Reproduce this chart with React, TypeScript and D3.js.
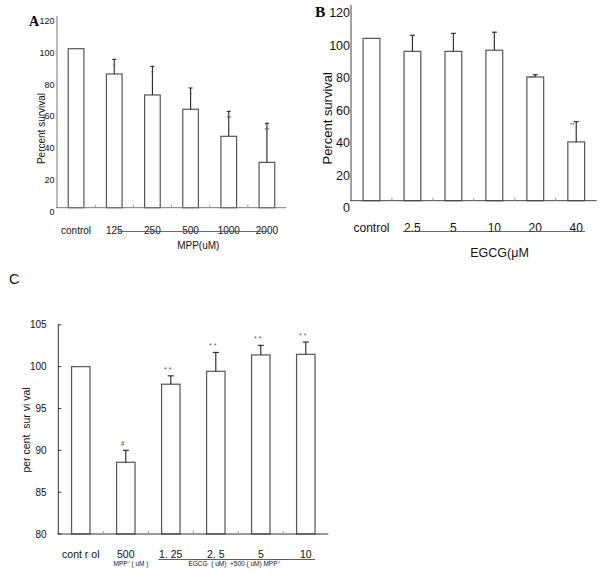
import React from "react";
import * as d3 from "d3";

// ---------- Data ----------
const catsA = ["control", "125", "250", "500", "1000", "2000"];
const meanA = [100, 84.1, 70.9, 61.9, 44.9, 28.5];
const sdA = [0, 9.2, 18.0, 13.4, 15.7, 24.6];
const sigA = ["", "*", "*", "*", "**", "**"];
const ticksA = [0, 20, 40, 60, 80, 100, 120];

const catsB = ["control", "2.5", "5", "10", "20", "40"];
const meanB = [100, 92.0, 92.0, 92.7, 76.2, 36.2];
const sdB = [0, 9.9, 11.1, 11.1, 1.4, 12.5];
const sigB = ["", "", "", "", "**", "**"];
const ticksB = [0, 20, 40, 60, 80, 100, 120];

const catsC = ["cont r ol", "500", "1. 25", "2. 5", "5", "10"];
const meanC = [100, 88.57, 97.9, 99.44, 101.4, 101.47];
const sdC = [0, 1.43, 1.0, 2.26, 1.15, 1.47];
const sigC = ["", "#", "* *", "* *", "* *", "* *"];
const ticksC = [80, 85, 90, 95, 100, 105];

const SANS = "'Liberation Sans', Arial, Helvetica, sans-serif";
const NARROW = "'Liberation Sans Narrow', 'Arial Narrow', 'Liberation Sans', Arial, sans-serif";

type PanelProps = {
  cats: string[];
  mean: number[];
  sd: number[];
  sig: string[];
  ticks: number[];
  domain: [number, number];
  xr: [number, number];
  yr: [number, number];
  tickFont: number;
  tickDy: number;
  tickX: number;
  catFont: number;
  catY: number;
  font: string;
  sigFont: number;
  sigDx: number;
  sigDy: number;
  capW: number;
  yTicksInward: boolean;
  axisColor: string;
};

function Panel(p: PanelProps) {
  const x = d3.scaleBand<string>().domain(p.cats).range(p.xr).paddingInner(0.59).paddingOuter(0.295);
  const y = d3.scaleLinear().domain(p.domain).range(p.yr);
  const step = x.step();
  const bw = x.bandwidth();
  const base = y(p.domain[0]);
  const bounds = d3.range(1, p.cats.length).map((i) => p.xr[0] + i * step);
  return (
    <g>
      {p.cats.map((c, i) => (
        <rect key={"b" + i} x={x(c)} y={y(p.mean[i])} width={bw} height={base - y(p.mean[i])}
          fill="#fff" stroke="#555" strokeWidth={1.2} />
      ))}
      {p.cats.map((c, i) => {
        if (!p.sd[i]) return null;
        const cx = (x(c) as number) + bw / 2;
        const top = y(p.mean[i] + p.sd[i]);
        return (
          <g key={"e" + i} stroke="#222" strokeWidth={1.1}>
            <line x1={cx} x2={cx} y1={y(p.mean[i])} y2={top} />
            <line x1={cx - p.capW / 2} x2={cx + p.capW / 2} y1={top} y2={top} />
          </g>
        );
      })}
      {p.cats.map((c, i) => {
        if (!p.sig[i]) return null;
        const cx = (x(c) as number) + bw / 2;
        const top = y(p.mean[i] + p.sd[i]);
        return (
          <text key={"s" + i} x={cx + p.sigDx} y={top + p.sigDy} fontSize={p.sigFont}
            fontFamily={SANS} fill="#555" textAnchor="middle" style={{ whiteSpace: "pre" }}>{p.sig[i]}</text>
        );
      })}
      <line x1={p.xr[0]} x2={p.xr[0]} y1={p.yr[1] - 1} y2={base} stroke={p.axisColor} strokeWidth={1} />
      <line x1={p.xr[0] - 1} x2={p.xr[1]} y1={base} y2={base} stroke={p.axisColor} strokeWidth={1} />
      {bounds.map((b, i) => (
        <line key={"xt" + i} x1={b} x2={b} y1={base} y2={base - 3} stroke="#999" strokeWidth={1} />
      ))}
      {p.yTicksInward && p.ticks.map((t, i) => (
        <line key={"yt" + i} x1={p.xr[0]} x2={p.xr[0] + 3} y1={y(t)} y2={y(t)} stroke="#333" strokeWidth={1} />
      ))}
      {p.ticks.map((t, i) => (
        <text key={"yl" + i} x={p.tickX} y={y(t) + p.tickDy} dy="0.35em" textAnchor="end"
          fontSize={p.tickFont} fontFamily={p.font} fill="#111">{t}</text>
      ))}
      {p.cats.map((c, i) => (
        <text key={"xl" + i} x={(x(c) as number) + bw / 2} y={p.catY} textAnchor="middle"
          fontSize={p.catFont} fontFamily={p.font} fill="#111" style={{ whiteSpace: "pre" }}>{c}</text>
      ))}
    </g>
  );
}

export default function App() {
  return (
    <svg width={600} height={574} style={{ position: "absolute", left: 0, top: 0, background: "#fff" }}>
      <rect width={600} height={574} fill="#fff" />
      {/* Panel A */}
      <text x={29} y={26} fontSize={14} fontWeight="bold" fontFamily="'Liberation Serif', 'Times New Roman', serif">A</text>
      <Panel cats={catsA} mean={meanA} sd={sdA} sig={sigA} ticks={ticksA} domain={[0, 120]}
        xr={[57, 286]} yr={[207.7, 16.9]} tickFont={9} tickDy={4} tickX={54.5} catFont={10} catY={234}
        font={SANS} sigFont={6} sigDx={0} sigDy={9} capW={4} yTicksInward={false} axisColor="#777" />
      <line x1={118} x2={268} y1={231.5} y2={231.5} stroke="#444" strokeWidth={0.8} />
      <text x={198.3} y={249} textAnchor="middle" fontSize={10} fontFamily={SANS} fill="#111">MPP(uM)</text>
      <text transform="translate(44.5,128.5) rotate(-90)" textAnchor="middle" fontSize={10} fontFamily={SANS} fill="#111">Percent survival</text>

      {/* Panel B */}
      <text x={315} y={16.7} fontSize={15.5} fontWeight="bold" fontFamily="'Liberation Serif', 'Times New Roman', serif">B</text>
      <Panel cats={catsB} mean={meanB} sd={sdB} sig={sigB} ticks={ticksB} domain={[0, 120]}
        xr={[351, 596.7]} yr={[200.7, 5.9]} tickFont={12.5} tickDy={7} tickX={350} catFont={12} catY={231.7}
        font={SANS} sigFont={6} sigDx={-4} sigDy={5} capW={5} yTicksInward={false} axisColor="#444" />
      <line x1={403} x2={585} y1={231.5} y2={231.5} stroke="#444" strokeWidth={0.8} />
      <text x={499.5} y={257} textAnchor="middle" fontSize={12.5} fontFamily={SANS} fill="#111">EGCG(μM</text>
      <text transform="translate(331.5,118.3) rotate(-90)" textAnchor="middle" fontSize={13} fontFamily={SANS} fill="#111">Percent survival</text>

      {/* Panel C */}
      <text x={9} y={283.5} fontSize={14.5} fontFamily={SANS} fill="#111">C</text>
      <Panel cats={catsC} mean={meanC} sd={sdC} sig={sigC} ticks={ticksC} domain={[80, 105]}
        xr={[58.3, 328.3]} yr={[534, 324.8]} tickFont={10} tickDy={0} tickX={46.7} catFont={10.5} catY={557.7}
        font={NARROW} sigFont={7} sigDx={-3} sigDy={-4} capW={6} yTicksInward={true} axisColor="#333" />
      <line x1={158.3} x2={315} y1={559.5} y2={559.5} stroke="#333" strokeWidth={0.8} />
      <text x={131} y={566} textAnchor="middle" fontSize={6.5} fontFamily={NARROW} fill="#111">MPP⁺ ( uM )</text>
      <text x={234} y={566} textAnchor="middle" fontSize={6.5} fontFamily={NARROW} fill="#111" style={{ whiteSpace: "pre" }}>EGCG  ( uM)  +500 ( uM) MPP⁺</text>
      <text transform="translate(29.5,430) rotate(-90)" textAnchor="middle" fontSize={10.5} fontFamily={SANS} fill="#111" style={{ whiteSpace: "pre" }}>per cent  sur vi val</text>
    </svg>
  );
}
